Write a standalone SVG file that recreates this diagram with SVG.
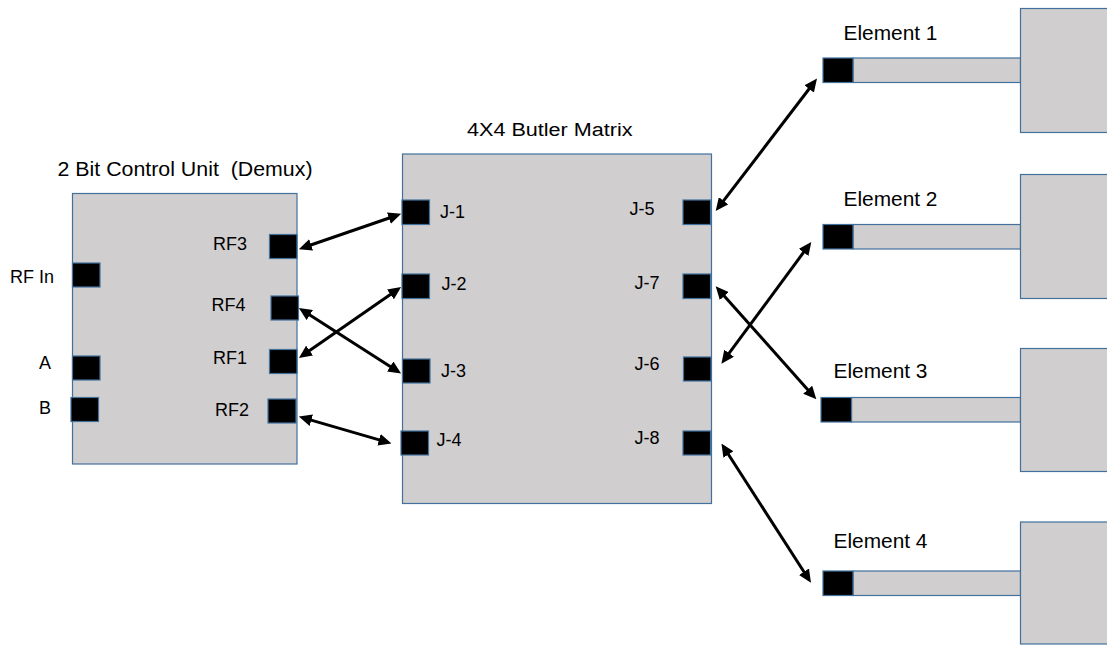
<svg xmlns="http://www.w3.org/2000/svg" width="1107" height="645" viewBox="0 0 1107 645">
<style>
.box{fill:#D0CECE;stroke:#41719C;stroke-width:1.2}
.port{fill:#000;stroke:#41719C;stroke-width:1.2}
.t{font-family:"Liberation Sans",Arial,sans-serif;font-size:18px;fill:#000}
.tl{font-family:"Liberation Sans",Arial,sans-serif;font-size:19.5px;fill:#000}
.c{stroke:#000;stroke-width:3;fill:none;marker-start:url(#ah);marker-end:url(#ah)}
</style>
<defs>
<marker id="ah" markerUnits="userSpaceOnUse" markerWidth="13" markerHeight="12" refX="6.5" refY="6" orient="auto-start-reverse" viewBox="0 0 13 12">
<path d="M0,0 L13,6 L0,12 z" fill="#000"/>
</marker>
</defs>
<rect width="1107" height="645" fill="#fff"/>

<g id="control-unit">
<text class="tl" x="57.5" y="176" textLength="255" lengthAdjust="spacingAndGlyphs">2 Bit Control Unit&#160; (Demux)</text>
<rect class="box" x="72.5" y="193.5" width="224.5" height="270.5"/>
<rect class="port" x="269.5" y="234.5" width="27.5" height="24"/>
<rect class="port" x="72.5" y="263" width="27.5" height="24"/>
<rect class="port" x="271" y="296" width="27.5" height="24"/>
<rect class="port" x="269.5" y="349.5" width="27.5" height="24"/>
<rect class="port" x="72.5" y="356" width="27.5" height="24"/>
<rect class="port" x="71" y="397.5" width="27.5" height="24"/>
<rect class="port" x="268" y="399" width="28" height="24"/>
<text class="t" x="213" y="250">RF3</text>
<text class="t" x="10" y="283">RF In</text>
<text class="t" x="211.5" y="311">RF4</text>
<text class="t" x="213" y="364">RF1</text>
<text class="t" x="39" y="369">A</text>
<text class="t" x="39" y="414">B</text>
<text class="t" x="215" y="416">RF2</text>
</g>

<g id="butler-matrix">
<text class="t" x="467" y="136" textLength="165.5" lengthAdjust="spacingAndGlyphs">4X4 Butler Matrix</text>
<rect class="box" x="402.5" y="154" width="309" height="349.5"/>
<rect class="port" x="402" y="200" width="27.5" height="24.5"/>
<rect class="port" x="402" y="274" width="27.5" height="24.5"/>
<rect class="port" x="402.5" y="359" width="27.5" height="24"/>
<rect class="port" x="401" y="431" width="27.5" height="24"/>
<rect class="port" x="683" y="200" width="27.5" height="24.5"/>
<rect class="port" x="683" y="274" width="27.5" height="24.5"/>
<rect class="port" x="683.5" y="357" width="27.5" height="24"/>
<rect class="port" x="683" y="431" width="27.5" height="24"/>
<text class="t" x="440" y="217.5">J-1</text>
<text class="t" x="441.5" y="290">J-2</text>
<text class="t" x="441" y="377">J-3</text>
<text class="t" x="436.5" y="446">J-4</text>
<text class="t" x="629.5" y="215">J-5</text>
<text class="t" x="634.5" y="288.5">J-7</text>
<text class="t" x="634.5" y="370">J-6</text>
<text class="t" x="634.5" y="443.5">J-8</text>
</g>

<g id="element-1">
<text class="tl" x="843.5" y="39.5" textLength="94" lengthAdjust="spacingAndGlyphs">Element 1</text>
<rect class="box" x="853" y="58" width="167.5" height="24.5"/>
<rect class="box" x="1020.5" y="8.5" width="95" height="124"/>
<rect class="port" x="823" y="58" width="30" height="24.5"/>
</g>
<g id="element-2">
<text class="tl" x="843.5" y="206" textLength="94" lengthAdjust="spacingAndGlyphs">Element 2</text>
<rect class="box" x="853" y="224.5" width="167.5" height="24.5"/>
<rect class="box" x="1020.5" y="174.5" width="95" height="124"/>
<rect class="port" x="823" y="224.5" width="30" height="24.5"/>
</g>
<g id="element-3">
<text class="tl" x="833.5" y="377.5" textLength="94" lengthAdjust="spacingAndGlyphs">Element 3</text>
<rect class="box" x="851.5" y="397.5" width="169" height="24.5"/>
<rect class="box" x="1020.5" y="348.5" width="95" height="123"/>
<rect class="port" x="821" y="397.5" width="30.5" height="24.5"/>
</g>
<g id="element-4">
<text class="tl" x="833.5" y="547.5" textLength="94" lengthAdjust="spacingAndGlyphs">Element 4</text>
<rect class="box" x="853" y="571" width="167.5" height="24.5"/>
<rect class="box" x="1020.5" y="522" width="95" height="122"/>
<rect class="port" x="823" y="571" width="30" height="24.5"/>
</g>

<g id="connectors">
<line class="c" x1="304.97" y1="247.04" x2="395.03" y2="215.96"/>
<line class="c" x1="304.35" y1="311.54" x2="395.65" y2="370.06"/>
<line class="c" x1="304.23" y1="354.28" x2="395.77" y2="290.72"/>
<line class="c" x1="305.06" y1="418.37" x2="385.24" y2="441.63"/>
<line class="c" x1="719.64" y1="205.93" x2="813.06" y2="83.77"/>
<line class="c" x1="725.26" y1="358.47" x2="807.44" y2="247.13"/>
<line class="c" x1="719.99" y1="291.18" x2="812.01" y2="394.52"/>
<line class="c" x1="724.95" y1="449.05" x2="807.45" y2="577.25"/>
</g>
</svg>
